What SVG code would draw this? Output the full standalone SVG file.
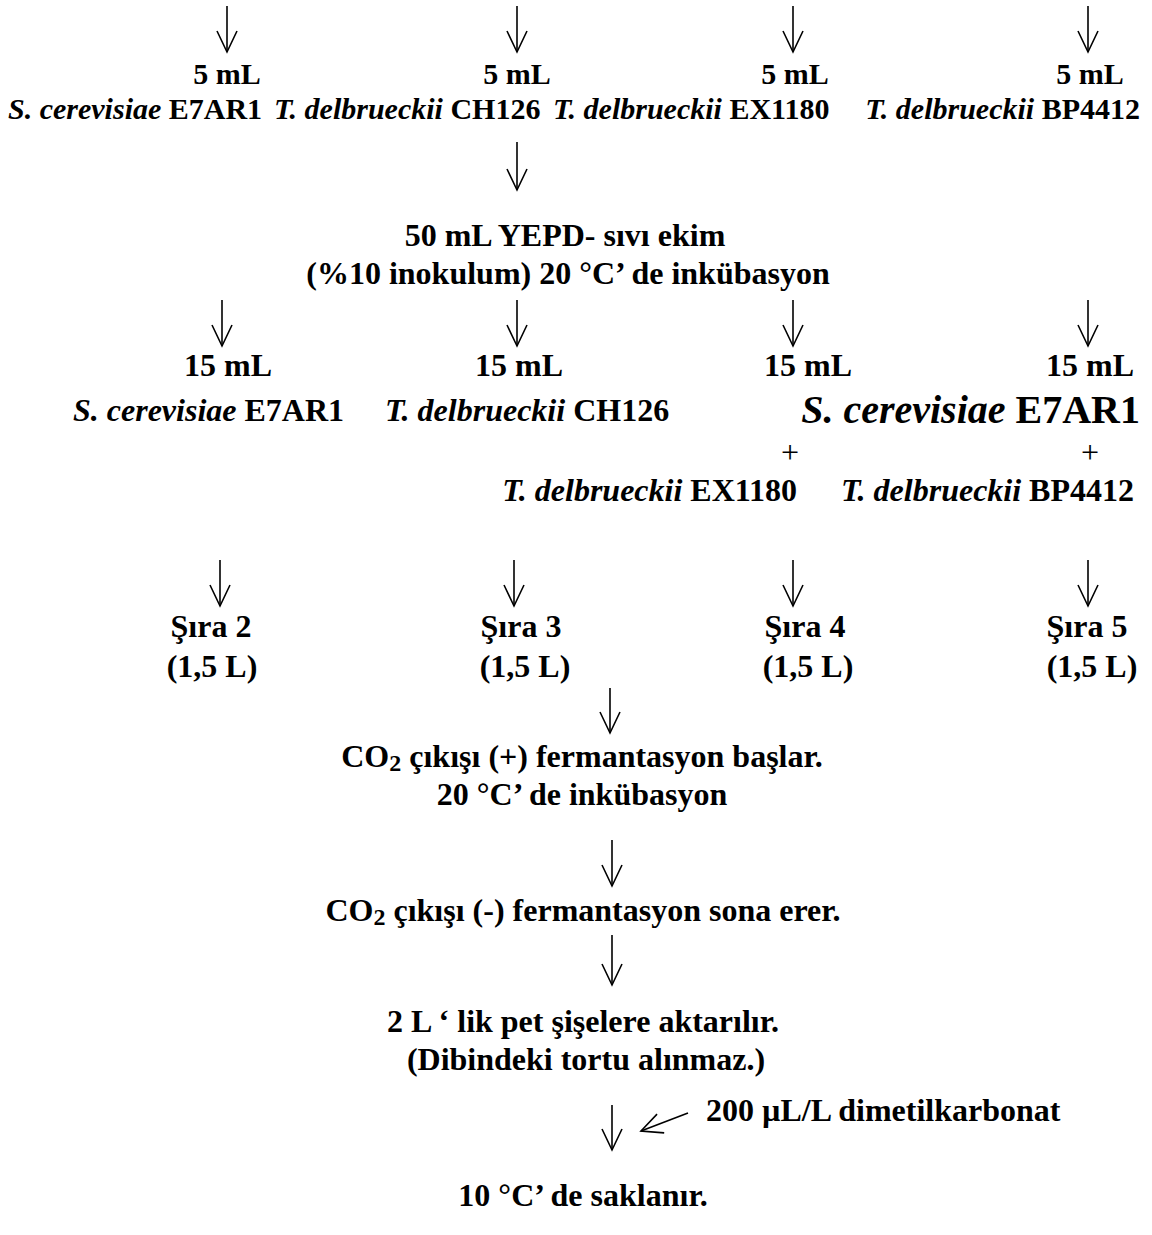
<svg xmlns="http://www.w3.org/2000/svg" width="1152" height="1235" viewBox="0 0 1152 1235">
<style>
text{font-family:"Liberation Serif","Times New Roman",serif;font-weight:bold;font-size:32px;fill:#000}
.i{font-style:italic}
.c{text-anchor:middle}
.e{text-anchor:end}
.t{font-size:30px}
.big{font-size:40px}
.plus{font-weight:normal;font-size:32px}
.arr{stroke:#000;stroke-width:1.6;fill:none;marker-end:url(#ah)}
</style>
<defs>
<marker id="ah" viewBox="-22 -12 24 24" markerWidth="24" markerHeight="24" refX="0" refY="0" orient="auto" markerUnits="userSpaceOnUse">
<path d="M-21,-10 L0,0 L-21,10" fill="none" stroke="#000" stroke-width="1.6"/>
</marker>
</defs>
<rect width="1152" height="1235" fill="#fff"/>
<g id="connectors">
<line class="arr" x1="227" y1="6" x2="227" y2="52"/>
<line class="arr" x1="517" y1="6" x2="517" y2="52"/>
<line class="arr" x1="793" y1="6" x2="793" y2="52"/>
<line class="arr" x1="1088" y1="6" x2="1088" y2="52"/>
<line class="arr" x1="517" y1="142" x2="517" y2="190"/>
<line class="arr" x1="222" y1="300" x2="222" y2="346"/>
<line class="arr" x1="517" y1="300" x2="517" y2="346"/>
<line class="arr" x1="793" y1="300" x2="793" y2="346"/>
<line class="arr" x1="1088" y1="300" x2="1088" y2="346"/>
<line class="arr" x1="220" y1="560" x2="220" y2="606"/>
<line class="arr" x1="514" y1="560" x2="514" y2="606"/>
<line class="arr" x1="793" y1="560" x2="793" y2="606"/>
<line class="arr" x1="1088" y1="560" x2="1088" y2="606"/>
<line class="arr" x1="610" y1="688" x2="610" y2="733"/>
<line class="arr" x1="612" y1="840" x2="612" y2="886"/>
<line class="arr" x1="612" y1="935" x2="612" y2="985"/>
<line class="arr" x1="612" y1="1105" x2="612" y2="1150"/>
<line class="arr" x1="688" y1="1113" x2="641" y2="1131"/>
</g>
<g id="n-top-5ml">
<text class="c t" x="227" y="84">5 mL</text>
<text class="c t" x="517" y="84">5 mL</text>
<text class="c t" x="795" y="84">5 mL</text>
<text class="c t" x="1090" y="84">5 mL</text>
</g>
<g id="n-top-strains">
<text class="t" x="8" y="119"><tspan class="i">S. cerevisiae</tspan> E7AR1</text>
<text class="t" x="274" y="119"><tspan class="i">T. delbrueckii</tspan> CH126</text>
<text class="t" x="553" y="119"><tspan class="i">T. delbrueckii</tspan>  EX1180</text>
<text class="t e" x="1140" y="119"><tspan class="i">T. delbrueckii</tspan> BP4412</text>
</g>
<g id="n-yepd">
<text class="c" x="565" y="246">50 mL YEPD- sıvı ekim</text>
<text class="c" x="568" y="284">(%10 inokulum) 20 °C’ de inkübasyon</text>
</g>
<g id="n-15ml">
<text class="c" x="228" y="376">15 mL</text>
<text class="c" x="519" y="376">15 mL</text>
<text class="c" x="808" y="376">15 mL</text>
<text class="c" x="1090" y="376">15 mL</text>
</g>
<g id="n-mix">
<text x="73" y="421"><tspan class="i">S. cerevisiae</tspan> E7AR1</text>
<text x="385" y="421"><tspan class="i">T. delbrueckii</tspan> CH126</text>
<text class="big e" x="1140" y="423"><tspan class="i">S. cerevisiae</tspan> E7AR1</text>
<text class="plus c" x="790" y="463">+</text>
<text class="plus c" x="1090" y="463">+</text>
<text class="e" x="797" y="501"><tspan class="i">T. delbrueckii</tspan> EX1180</text>
<text class="e" x="1134" y="501"><tspan class="i">T. delbrueckii</tspan> BP4412</text>
</g>
<g id="n-sira">
<text class="c" x="211" y="637">Şıra 2</text>
<text class="c" x="212" y="677">(1,5 L)</text>
<text class="c" x="521" y="637">Şıra 3</text>
<text class="c" x="525" y="677">(1,5 L)</text>
<text class="c" x="805" y="637">Şıra 4</text>
<text class="c" x="808" y="677">(1,5 L)</text>
<text class="c" x="1087" y="637">Şıra 5</text>
<text class="c" x="1092" y="677">(1,5 L)</text>
</g>
<g id="n-ferm-start">
<text class="c" x="582" y="767">CO<tspan font-size="24" dy="4">2</tspan><tspan dy="-4"> çıkışı (+) fermantasyon başlar.</tspan></text>
<text class="c" x="582" y="805">20 °C’ de inkübasyon</text>
</g>
<g id="n-ferm-end">
<text class="c" x="583" y="921">CO<tspan font-size="24" dy="4">2</tspan><tspan dy="-4"> çıkışı (-) fermantasyon sona erer.</tspan></text>
</g>
<g id="n-bottle">
<text class="c" x="583" y="1032">2 L ‘ lik pet şişelere aktarılır.</text>
<text class="c" x="586" y="1070">(Dibindeki tortu alınmaz.)</text>
</g>
<g id="n-dmdc">
<text x="706" y="1121">200 µL/L dimetilkarbonat</text>
</g>
<g id="n-store">
<text class="c" x="583" y="1206">10 °C’ de saklanır.</text>
</g>
</svg>
